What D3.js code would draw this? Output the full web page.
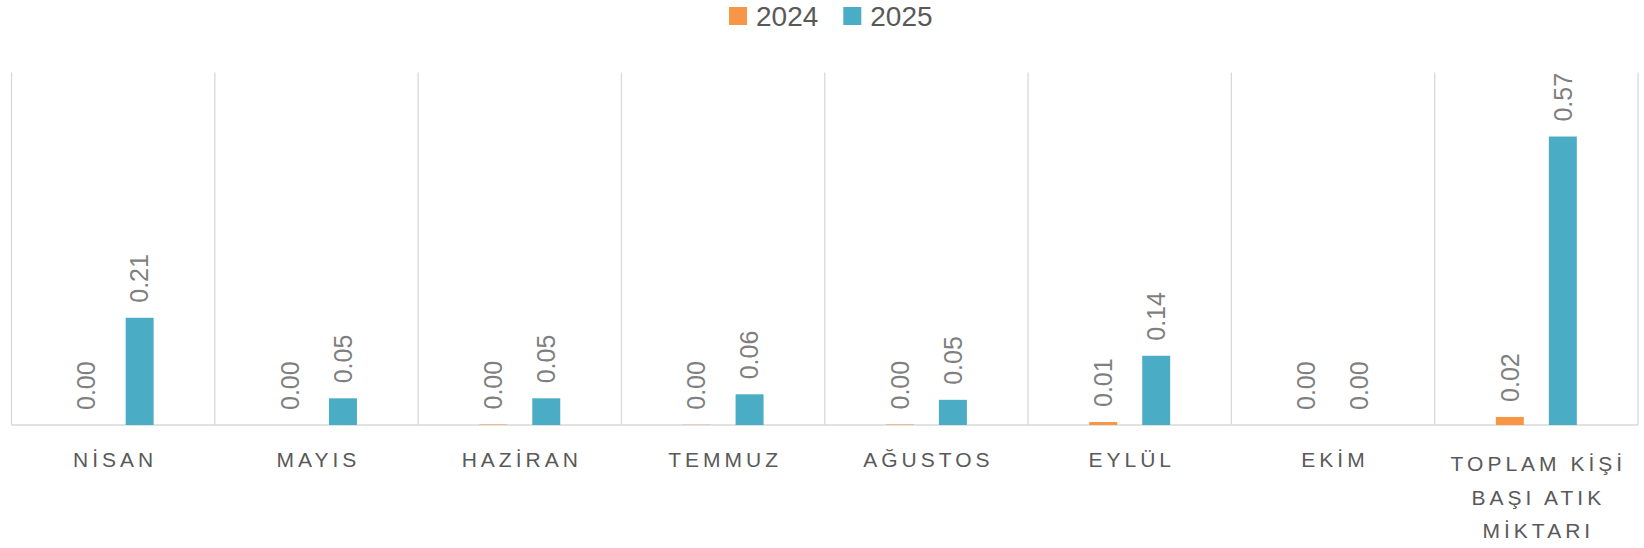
<!DOCTYPE html>
<html>
<head>
<meta charset="utf-8">
<script src="https://cdn.jsdelivr.net/npm/d3@7"></script>
<style>
  html, body { margin: 0; padding: 0; background: #fff; }
  svg { display: block; font-family: "Liberation Sans", Arial, sans-serif; }
</style>
</head>
<body>
<script>
const categories = ["NİSAN", "MAYIS", "HAZİRAN", "TEMMUZ", "AĞUSTOS", "EYLÜL", "EKİM", "TOPLAM KİŞİ BAŞI ATIK MİKTARI"];
const seriesNames = ["2024", "2025"];
const values2024 = [0.0, 0.0, 0.001, 0.0005, 0.001, 0.006, 0.0, 0.016];
const values2025 = [0.213, 0.053, 0.053, 0.061, 0.05, 0.1375, 0.0, 0.573];
const colors = ["#F79646", "#4BACC6"];

const width = 1644, height = 548;
const margin = { top: 72.6, right: 6, bottom: 123, left: 11.5 };

const svg = d3.select("body").append("svg")
  .attr("width", width)
  .attr("height", height);

const x0 = d3.scaleBand()
  .domain(categories)
  .range([margin.left, width - margin.right])
  .padding(0);

const x1 = d3.scaleBand()
  .domain(seriesNames)
  .range([0, x0.bandwidth()])
  .paddingInner(0.472)
  .paddingOuter(1.155);

const y = d3.scaleLinear()
  .domain([0, 0.7])
  .range([height - margin.bottom, margin.top]);

const fmt = d3.format(".2f");
const gridColor = "#d9d9d9";

// vertical separators between categories
const bounds = categories.map((c) => x0(c)).concat([x0.range()[1]]);
svg.append("g")
  .selectAll("line")
  .data(bounds)
  .join("line")
  .attr("x1", (d) => d)
  .attr("x2", (d) => d)
  .attr("y1", y(0.7))
  .attr("y2", y(0))
  .attr("stroke", gridColor)
  .attr("stroke-width", 1.3);

// baseline
svg.append("line")
  .attr("x1", x0.range()[0])
  .attr("x2", x0.range()[1])
  .attr("y1", y(0))
  .attr("y2", y(0))
  .attr("stroke", gridColor)
  .attr("stroke-width", 1.3);

const data = categories.map((c, i) => ({
  cat: c,
  vals: [
    { key: "2024", v: values2024[i], color: colors[0] },
    { key: "2025", v: values2025[i], color: colors[1] },
  ],
}));

const groups = svg.append("g")
  .selectAll("g")
  .data(data)
  .join("g")
  .attr("transform", (d) => "translate(" + x0(d.cat) + ",0)");

groups.selectAll("rect")
  .data((d) => d.vals)
  .join("rect")
  .attr("x", (d) => x1(d.key))
  .attr("width", x1.bandwidth())
  .attr("y", (d) => y(d.v))
  .attr("height", (d) => y(0) - y(d.v))
  .attr("fill", (d) => d.color);

groups.selectAll("text")
  .data((d) => d.vals)
  .join("text")
  .attr("transform", (d) =>
    "translate(" + (x1(d.key) + x1.bandwidth() / 2) + "," + (y(d.v) - 15) + ") rotate(-90)")
  .attr("dy", "0.35em")
  .attr("font-size", 25)
  .attr("fill", "#7f7f7f")
  .text((d) => fmt(d.v));

// category labels with wrapping
const catLabels = svg.append("g")
  .selectAll("text")
  .data(categories)
  .join("text")
  .attr("x", (d) => x0(d) + x0.bandwidth() / 2)
  .attr("y", 467)
  .attr("text-anchor", "middle")
  .attr("font-size", 21)
  .attr("letter-spacing", "4px")
  .attr("fill", "#595959")
  .text((d) => d);

catLabels.each(function (d) {
  const text = d3.select(this);
  const words = d.split(/\s+/);
  const cx = +text.attr("x");
  const maxW = x0.bandwidth() - 10;
  text.text(null);
  let lines = [];
  let line = [];
  let tspan = text.append("tspan").attr("x", cx);
  for (const w of words) {
    line.push(w);
    tspan.text(line.join(" "));
    if (tspan.node().getComputedTextLength() > maxW && line.length > 1) {
      line.pop();
      lines.push(line.join(" "));
      line = [w];
      tspan.text(w);
    }
  }
  lines.push(line.join(" "));
  text.text(null);
  const shift = lines.length > 1 ? 4 : 0;
  lines.forEach((l, i) => {
    text.append("tspan")
      .attr("x", cx + 2)
      .attr("y", 467 + shift + i * 33.5)
      .text(l);
  });
});

// legend
const legend = svg.append("g").attr("font-size", 28).attr("fill", "#595959");
let lx = 729;
seriesNames.forEach((name, i) => {
  legend.append("rect")
    .attr("x", lx)
    .attr("y", 7)
    .attr("width", 18)
    .attr("height", 18)
    .attr("fill", colors[i]);
  const t = legend.append("text")
    .attr("x", lx + 27)
    .attr("y", 26)
    .text(name);
  lx += 27 + t.node().getComputedTextLength() + 25;
});
</script>
</body>
</html>
